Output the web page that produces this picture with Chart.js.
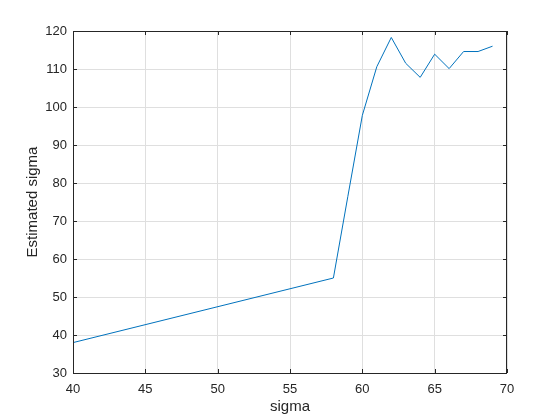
<!DOCTYPE html>
<html>
<head>
<meta charset="utf-8">
<script src="https://cdn.jsdelivr.net/npm/chart.js@4"></script>
<style>
  html, body { margin: 0; padding: 0; background: #fff; }
  #wrap { width: 560px; height: 420px; }
</style>
</head>
<body>
<div id="wrap"><canvas id="sigmaChart" width="560" height="420"></canvas></div>
<script>
// values
const sigmaValues = [40, 58, 59, 60, 61, 62, 63, 64, 65, 66, 67, 68, 69];
const estimatedValues = [38, 55, 76.5, 97.8, 110.6, 118.3, 111.5, 107.8, 113.9, 110.1, 114.6, 114.6, 116];
const xTicks = [40, 45, 50, 55, 60, 65, 70];
const yTicks = [30, 40, 50, 60, 70, 80, 90, 100, 110, 120];

const axisColor = '#262626';
const gridColor = '#dfdfdf';
const fontFamily = '"Liberation Sans", Arial, Helvetica, sans-serif';

// matlab-style box with inward ticks on all four sides
const boxPlugin = {
  id: 'matlabBox',
  afterDraw(chart) {
    const { ctx, chartArea: a, scales: { x, y } } = chart;
    const len = 4;
    ctx.save();
    ctx.strokeStyle = axisColor;
    ctx.lineWidth = 1;
    ctx.beginPath();
    ctx.rect(a.left + 0.5, a.top + 0.5, a.right - a.left - 1, a.bottom - a.top);
    xTicks.forEach((v) => {
      const px = Math.round(x.getPixelForValue(v)) + 0.5;
      ctx.moveTo(px, a.bottom);
      ctx.lineTo(px, a.bottom - len);
      ctx.moveTo(px, a.top);
      ctx.lineTo(px, a.top + len);
    });
    yTicks.forEach((v) => {
      const py = Math.round(y.getPixelForValue(v)) + 0.5;
      ctx.moveTo(a.left, py);
      ctx.lineTo(a.left + len, py);
      ctx.moveTo(a.right, py);
      ctx.lineTo(a.right - len, py);
    });
    ctx.stroke();
    ctx.restore();
  }
};

new Chart(document.getElementById('sigmaChart'), {
  type: 'line',
  data: {
    datasets: [{
      data: sigmaValues.map((s, i) => ({ x: s, y: estimatedValues[i] })),
      borderColor: '#0072BD',
      borderWidth: 1,
      pointRadius: 0,
      tension: 0,
      fill: false
    }]
  },
  options: {
    responsive: false,
    animation: false,
    devicePixelRatio: 1,
    layout: { padding: { top: 31, right: 53, left: 0, bottom: 0 } },
    plugins: { legend: { display: false }, tooltip: { enabled: false } },
    scales: {
      x: {
        type: 'linear',
        min: 40,
        max: 70,
        afterFit: (scale) => { scale.height = 47; },
        afterBuildTicks: (scale) => { scale.ticks = xTicks.map((v) => ({ value: v })); },
        grid: { color: gridColor, drawTicks: false },
        border: { display: false },
        ticks: { color: axisColor, padding: 9, font: { family: fontFamily, size: 13 } },
        title: {
          display: true,
          text: 'sigma',
          color: axisColor,
          padding: { top: 0, bottom: 4 },
          font: { family: fontFamily, size: 15 }
        }
      },
      y: {
        min: 30,
        max: 120,
        afterFit: (scale) => { scale.width = 73; },
        afterBuildTicks: (scale) => { scale.ticks = yTicks.map((v) => ({ value: v })); },
        grid: { color: gridColor, drawTicks: false },
        border: { display: false },
        ticks: { color: axisColor, padding: 6, font: { family: fontFamily, size: 13 } },
        title: {
          display: true,
          text: 'Estimated sigma',
          color: axisColor,
          padding: { top: 24, bottom: 0 },
          font: { family: fontFamily, size: 15 }
        }
      }
    }
  },
  plugins: [boxPlugin]
});
</script>
</body>
</html>
